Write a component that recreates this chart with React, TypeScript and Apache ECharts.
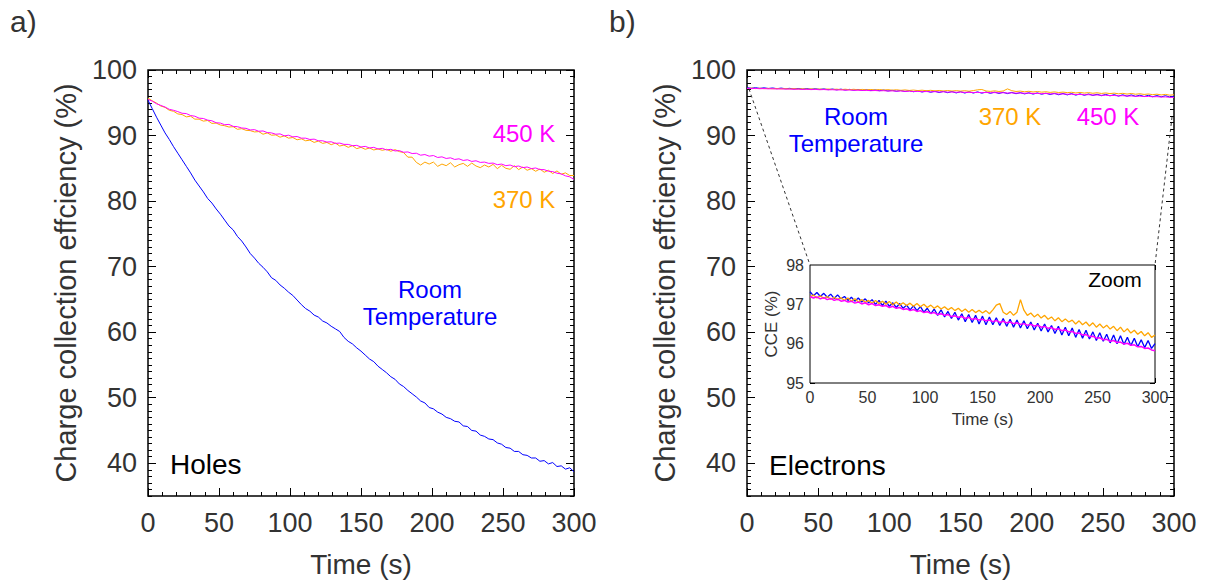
import React, { useEffect, useRef } from "react";
import * as echarts from "echarts";

// Sampling times (s)
const T = [
  0, 3, 6, 9, 12, 15, 18, 21, 24, 27, 30, 33, 36, 39, 42, 45, 48, 51, 54, 57,
  60, 63, 66, 69, 72, 75, 78, 81, 84, 87, 90, 93, 96, 99, 102, 105, 108, 111, 114, 117,
  120, 123, 126, 129, 132, 135, 138, 141, 144, 147, 150, 153, 156, 159, 162, 165, 168, 171, 174, 177,
  180, 183, 186, 189, 192, 195, 198, 201, 204, 207, 210, 213, 216, 219, 222, 225, 228, 231, 234, 237,
  240, 243, 246, 249, 252, 255, 258, 261, 264, 267, 270, 273, 276, 279, 282, 285, 288, 291, 294, 297, 300,
];

// a) Holes
const HOLES_RT = [
  95.4, 94.1, 92.8, 91.6, 90.4, 89.4, 88.3, 87.3, 86.3, 85.3, 84.3, 83.2, 82.3, 81.4, 80.4, 79.7, 78.8, 78.0, 77.1, 76.2,
  75.6, 74.6, 73.9, 73.0, 72.0, 71.3, 70.5, 69.9, 69.2, 68.3, 67.9, 67.2, 66.7, 66.1, 65.6, 64.9, 64.2, 63.6, 63.2, 62.6,
  62.3, 61.7, 61.4, 60.9, 60.5, 60.1, 59.2, 58.6, 58.2, 57.6, 57.1, 56.5, 55.9, 55.5, 54.8, 54.3, 53.8, 53.2, 52.8, 52.1,
  51.7, 51.1, 50.6, 50.1, 49.5, 49.2, 48.5, 48.3, 47.8, 47.5, 47.0, 46.8, 46.4, 46.3, 45.7, 45.6, 45.0, 44.9, 44.3, 44.1,
  43.7, 43.6, 43.1, 42.9, 42.4, 42.3, 41.8, 41.8, 41.3, 41.2, 40.8, 40.8, 40.3, 40.4, 39.9, 40.1, 39.5, 39.6, 39.1, 39.3, 38.7,
];
const HOLES_370 = [
  95.7, 95.3, 94.95, 94.5, 94.3, 93.85, 93.7, 93.3, 93.2, 92.85,
  92.95, 92.5, 92.5, 92.2, 92.3, 91.85, 91.9, 91.6, 91.5, 91.3,
  91.35, 90.95, 91.05, 90.8, 90.75, 90.55, 90.6, 90.2, 90.4, 90.05,
  90.1, 89.75, 89.95, 89.6, 89.7, 89.35, 89.5, 89.2, 89.3, 88.95,
  89.15, 88.8, 88.95, 88.6, 88.85, 88.4, 88.55, 88.2, 88.45, 88.0,
  88.2, 87.9, 88.1, 87.8, 87.95, 87.75, 87.9, 87.6, 87.85, 87.55,
  87.4, 86.7, 86.7, 85.9, 85.5, 85.95, 85.65, 85.95, 85.3, 85.65,
  85.4, 85.85, 85.2, 85.55, 85.75, 85.3, 85.8, 85.35, 85.1, 85.5,
  85.2, 85.6, 84.95, 85.45, 85.0, 84.85, 85.4, 84.8, 85.2, 84.7,
  84.95, 84.55, 84.9, 84.4, 84.7, 84.2, 84.6, 84.1, 84.3, 83.9, 83.9,
];
const HOLES_450 = [
  95.5, 95.25, 94.85, 94.6, 94.35, 94.0, 93.85, 93.65, 93.4, 93.35, 93.05, 92.95, 92.65, 92.6, 92.35, 92.25, 91.95, 91.9, 91.65, 91.7,
  91.4, 91.35, 91.15, 91.1, 90.85, 90.9, 90.65, 90.7, 90.45, 90.4, 90.2, 90.25, 89.95, 90.05, 89.8, 89.85, 89.6, 89.6, 89.4, 89.45,
  89.2, 89.2, 89.0, 89.05, 88.8, 88.85, 88.65, 88.65, 88.45, 88.5, 88.25, 88.35, 88.1, 88.2, 87.95, 88.05, 87.8, 87.9, 87.65, 87.7,
  87.45, 87.5, 87.25, 87.3, 87.0, 87.1, 86.85, 86.95, 86.65, 86.75, 86.5, 86.6, 86.35, 86.45, 86.2, 86.3, 86.05, 86.15, 85.9, 85.95,
  85.75, 85.8, 85.55, 85.65, 85.4, 85.5, 85.25, 85.35, 85.1, 85.2, 84.95, 85.05, 84.8, 84.8, 84.55, 84.5, 84.25, 84.15, 83.85, 83.7, 83.3,
];

// b) Electrons
const ELEC_RT = [
  97.32, 97.22, 97.3, 97.2, 97.28, 97.18, 97.26, 97.15, 97.24, 97.14, 97.2, 97.1, 97.18, 97.08, 97.16, 97.06, 97.14, 97.04, 97.12, 97.0,
  97.1, 96.97, 97.08, 96.95, 97.04, 96.92, 97.02, 96.9, 96.98, 96.86, 96.96, 96.84, 96.94, 96.8, 96.9, 96.76, 96.88, 96.72, 96.86, 96.68,
  96.82, 96.64, 96.8, 96.6, 96.76, 96.56, 96.74, 96.54, 96.72, 96.5, 96.7, 96.48, 96.68, 96.48, 96.66, 96.46, 96.64, 96.44, 96.62, 96.42,
  96.6, 96.4, 96.58, 96.38, 96.55, 96.35, 96.52, 96.32, 96.5, 96.3, 96.46, 96.26, 96.44, 96.22, 96.42, 96.2, 96.4, 96.16, 96.36, 96.14,
  96.34, 96.12, 96.3, 96.08, 96.28, 96.06, 96.24, 96.02, 96.22, 96.0, 96.2, 95.98, 96.16, 95.95, 96.14, 95.92, 96.1, 95.9, 96.08, 95.88, 96.0,
];
const ELEC_370 = [
  97.18, 97.24, 97.16, 97.22, 97.15, 97.2, 97.13, 97.18, 97.12, 97.17, 97.1, 97.16, 97.08, 97.14, 97.06, 97.12, 97.05, 97.1, 97.03, 97.1,
  97.02, 97.08, 97.0, 97.07, 96.99, 97.06, 96.98, 97.04, 96.97, 97.03, 96.95, 97.02, 96.94, 97.0, 96.92, 96.98, 96.9, 96.96, 96.88, 96.94,
  96.86, 96.92, 96.84, 96.9, 96.82, 96.88, 96.8, 96.87, 96.79, 96.85, 96.78, 96.84, 96.76, 96.86, 96.98, 97.02, 96.8, 96.74, 96.82, 96.72,
  96.8, 97.12, 96.85, 96.72, 96.78, 96.68, 96.75, 96.65, 96.72, 96.62, 96.68, 96.58, 96.66, 96.56, 96.63, 96.55, 96.6, 96.5, 96.58, 96.48,
  96.55, 96.45, 96.53, 96.42, 96.5, 96.4, 96.47, 96.37, 96.44, 96.33, 96.42, 96.3, 96.38, 96.27, 96.34, 96.24, 96.31, 96.2, 96.28, 96.16, 96.22,
];
const ELEC_450 = [
  97.2, 97.16, 97.19, 97.14, 97.17, 97.12, 97.15, 97.1, 97.13, 97.08, 97.1, 97.06, 97.08, 97.03, 97.06, 97.01, 97.04, 96.99, 97.02, 96.97,
  96.99, 96.95, 96.97, 96.92, 96.95, 96.9, 96.92, 96.87, 96.89, 96.84, 96.87, 96.82, 96.84, 96.79, 96.81, 96.77, 96.79, 96.74, 96.76, 96.72,
  96.74, 96.69, 96.71, 96.67, 96.69, 96.64, 96.67, 96.62, 96.64, 96.6, 96.62, 96.58, 96.6, 96.56, 96.59, 96.54, 96.57, 96.53, 96.55, 96.51,
  96.53, 96.49, 96.51, 96.47, 96.49, 96.45, 96.47, 96.42, 96.44, 96.39, 96.41, 96.36, 96.38, 96.33, 96.35, 96.3, 96.31, 96.26, 96.27, 96.22,
  96.23, 96.18, 96.19, 96.14, 96.15, 96.1, 96.11, 96.06, 96.08, 96.03, 96.04, 95.99, 96.01, 95.96, 95.97, 95.92, 95.93, 95.88, 95.89, 95.84, 95.82,
];

// Tick values
const Y_MAJOR = [40, 50, 60, 70, 80, 90, 100];
const Y_MINOR: number[] = [];
for (let v = 35; v <= 100; v++) if (v % 10 !== 0) Y_MINOR.push(v);

const FONT = "Liberation Sans, Arial, sans-serif";
const TXT = "#333333";
const BLUE = "#0000ff";
const ORANGE = "#ffa500";
const MAGENTA = "#ff00ff";

const pairs = (ys: number[]) => T.map((t, i) => [t, ys[i]]);

const tickStyle = { color: "#000", width: 1 };

function mainX(grid: number, top: boolean) {
  return {
    type: "value",
    gridIndex: grid,
    position: top ? "top" : "bottom",
    min: 0,
    max: 300,
    interval: 50,
    axisLine: { show: false, onZero: false },
    axisTick: { show: true, inside: true, length: 8, lineStyle: tickStyle },
    minorTick: { show: true, splitNumber: 5, length: 4, lineStyle: tickStyle },
    splitLine: { show: false },
    minorSplitLine: { show: false },
    axisLabel: top
      ? { show: false }
      : { show: true, fontSize: 27, color: TXT, fontFamily: FONT, margin: 13 },
    name: top ? "" : "Time (s)",
    nameLocation: "middle",
    nameGap: 54,
    nameTextStyle: { fontSize: 28, color: TXT, fontFamily: FONT },
  };
}

function mainY(grid: number, right: boolean, minor: boolean) {
  const vals = minor ? Y_MINOR : Y_MAJOR;
  const withLabel = !right && !minor;
  return {
    type: "value",
    gridIndex: grid,
    position: right ? "right" : "left",
    min: 35,
    max: 100,
    axisLine: { show: false, onZero: false },
    axisTick: {
      show: true,
      inside: true,
      length: minor ? 4 : 8,
      customValues: vals,
      lineStyle: tickStyle,
    },
    axisLabel: withLabel
      ? { show: true, customValues: Y_MAJOR, fontSize: 27, color: TXT, fontFamily: FONT, margin: 11 }
      : { show: false },
    splitLine: { show: false },
    name: withLabel ? "Charge collection effciency (%)" : "",
    nameLocation: "middle",
    nameGap: 68,
    nameRotate: 90,
    nameTextStyle: { fontSize: 29, color: TXT, fontFamily: FONT },
  };
}

function insetX(top: boolean) {
  return {
    type: "value",
    gridIndex: 2,
    position: top ? "top" : "bottom",
    min: 0,
    max: 300,
    interval: 50,
    axisLine: { show: false, onZero: false },
    axisTick: { show: true, inside: true, length: 5, lineStyle: tickStyle },
    minorTick: { show: true, splitNumber: 5, length: 3, lineStyle: tickStyle },
    splitLine: { show: false },
    axisLabel: top
      ? { show: false }
      : { show: true, fontSize: 16, color: TXT, fontFamily: FONT, margin: 6 },
    name: top ? "" : "Time (s)",
    nameLocation: "middle",
    nameGap: 28,
    nameTextStyle: { fontSize: 17, color: TXT, fontFamily: FONT },
  };
}

function insetY(right: boolean) {
  return {
    type: "value",
    gridIndex: 2,
    position: right ? "right" : "left",
    min: 95,
    max: 98,
    interval: 1,
    axisLine: { show: false, onZero: false },
    axisTick: { show: true, inside: true, length: 5, lineStyle: tickStyle },
    minorTick: { show: true, splitNumber: 5, length: 3, lineStyle: tickStyle },
    splitLine: { show: false },
    axisLabel: right
      ? { show: false }
      : { show: true, fontSize: 16, color: TXT, fontFamily: FONT, margin: 6 },
    name: right ? "" : "CCE (%)",
    nameLocation: "middle",
    nameGap: 30,
    nameRotate: 90,
    nameTextStyle: { fontSize: 17, color: TXT, fontFamily: FONT },
  };
}

function line(data: number[], color: string, xi: number, yi: number, z: number, width = 1) {
  return {
    type: "line",
    xAxisIndex: xi,
    yAxisIndex: yi,
    data: pairs(data),
    symbol: "none",
    showSymbol: false,
    silent: true,
    z,
    lineStyle: { width, color },
    itemStyle: { color },
  };
}

function label(text: string, x: number, y: number, size: number, fill: string, align = "center") {
  return {
    type: "text",
    x,
    y,
    silent: true,
    z: 50,
    style: {
      text,
      fontSize: size,
      fontFamily: FONT,
      fill,
      textAlign: align,
      textVerticalAlign: "middle",
    },
  };
}

const option = {
  animation: false,
  backgroundColor: "#ffffff",
  textStyle: { fontFamily: FONT },
  grid: [
    { left: 148, top: 70, width: 426, height: 426, show: true, borderColor: "#000", borderWidth: 1.5, backgroundColor: "transparent" },
    { left: 747, top: 70, width: 427, height: 426, show: true, borderColor: "#000", borderWidth: 1.5, backgroundColor: "transparent" },
    { left: 810, top: 265, width: 345, height: 118, show: true, borderColor: "#000", borderWidth: 1, backgroundColor: "#ffffff", z: 5 },
  ],
  xAxis: [mainX(0, false), mainX(0, true), mainX(1, false), mainX(1, true), insetX(false), insetX(true)],
  yAxis: [
    mainY(0, false, false),
    mainY(0, false, true),
    mainY(0, true, false),
    mainY(0, true, true),
    mainY(1, false, false),
    mainY(1, false, true),
    mainY(1, true, false),
    mainY(1, true, true),
    insetY(false),
    insetY(true),
  ],
  series: [
    line(HOLES_RT, BLUE, 0, 0, 2),
    line(HOLES_370, ORANGE, 0, 0, 3),
    line(HOLES_450, MAGENTA, 0, 0, 4),
    line(ELEC_RT, BLUE, 2, 4, 2),
    line(ELEC_370, ORANGE, 2, 4, 3),
    line(ELEC_450, MAGENTA, 2, 4, 4),
    line(ELEC_RT, BLUE, 4, 8, 6, 1.3),
    line(ELEC_370, ORANGE, 4, 8, 7, 1.3),
    line(ELEC_450, MAGENTA, 4, 8, 8, 1.5),
  ],
  graphic: [
    label("a)", 10, 21, 30, TXT, "left"),
    label("b)", 609, 21, 30, TXT, "left"),
    label("450 K", 524, 133, 24, MAGENTA),
    label("370 K", 524, 199, 24, ORANGE),
    label("Room", 430, 289, 24, BLUE),
    label("Temperature", 430, 316, 24, BLUE),
    label("Holes", 170, 464, 28, "#000", "left"),
    label("Room", 856, 116, 24, BLUE),
    label("Temperature", 856, 143, 24, BLUE),
    label("370 K", 1010, 116, 24, ORANGE),
    label("450 K", 1108, 116, 24, MAGENTA),
    label("Electrons", 769, 465, 28, "#000", "left"),
    label("Zoom", 1115, 279, 21, "#000"),
    {
      type: "line",
      silent: true,
      z: 40,
      shape: { x1: 749, y1: 89, x2: 810, y2: 265 },
      style: { stroke: "#333", lineWidth: 1, lineDash: [3, 3] },
    },
    {
      type: "line",
      silent: true,
      z: 40,
      shape: { x1: 1172, y1: 117, x2: 1155, y2: 265 },
      style: { stroke: "#333", lineWidth: 1, lineDash: [3, 3] },
    },
  ],
};

export default function App() {
  const ref = useRef<HTMLDivElement>(null);
  useEffect(() => {
    if (!ref.current) return;
    const chart = echarts.init(ref.current, undefined, { renderer: "svg", width: 1206, height: 584 });
    chart.setOption(option as any);
    return () => chart.dispose();
  }, []);
  return (
    <div
      ref={ref}
      style={{ position: "absolute", left: 0, top: 0, width: 1206, height: 584, background: "#fff" }}
    />
  );
}
